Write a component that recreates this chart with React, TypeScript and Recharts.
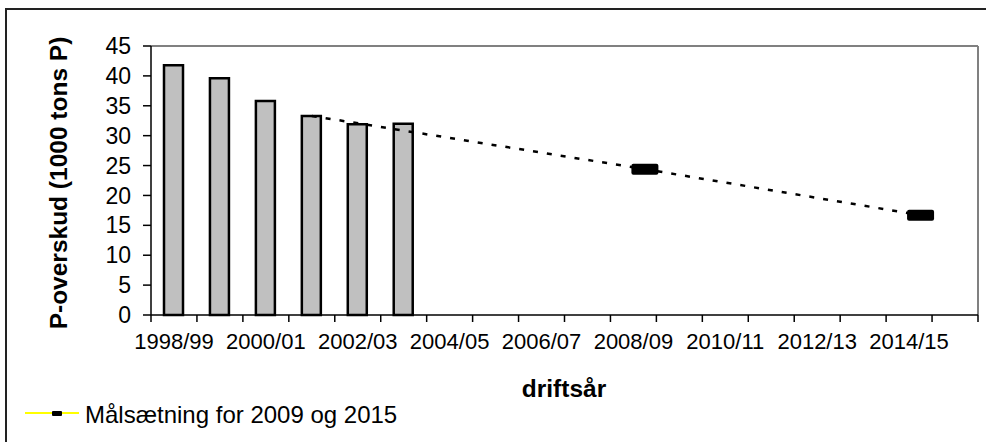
import React from 'react';
import { ComposedChart, Bar, Line, XAxis, YAxis, ReferenceLine } from 'recharts';

const seasons = [
  '1998/99', '1999/00', '2000/01', '2001/02', '2002/03', '2003/04',
  '2004/05', '2005/06', '2006/07', '2007/08', '2008/09', '2009/10',
  '2010/11', '2011/12', '2012/13', '2013/14', '2014/15', '2015/16',
];
const pSurplus: (number | null)[] = [
  41.8, 39.6, 35.8, 33.3, 31.9, 32.0,
  null, null, null, null, null, null, null, null, null, null, null, null,
];
const trendYears = [2001.5, 2008.75, 2014.75];
const trendValues = [33.3, 24.4, 16.7];
const goalYears = [2008.75, 2014.75];
const goalValues = [24.4, 16.7];
const yTicks = [0, 5, 10, 15, 20, 25, 30, 35, 40, 45];
const boundaryYears = [
  1998, 1999, 2000, 2001, 2002, 2003, 2004, 2005, 2006, 2007,
  2008, 2009, 2010, 2011, 2012, 2013, 2014, 2015, 2016,
];
const firstYear = boundaryYears[0];
const lastYear = boundaryYears[boundaryYears.length - 1];

const barData = seasons.map((name, i) => ({ name, p: pSurplus[i] }));
const trendData = trendYears.map((year, i) => ({ year, trend: trendValues[i] }));
const goalData = goalYears.map((year, i) => ({ year, goal: goalValues[i] }));
// tick marks at season boundaries, labels at season centres
const xTicks = [
  ...boundaryYears,
  ...boundaryYears.slice(0, -1).map((y) => y + 0.5),
].sort((a, b) => a - b);

const FONT = '"Liberation Sans", Arial, sans-serif';

const XTick = (props: any) => {
  const { x, y, payload, index } = props;
  const v = payload.value as number;
  if (Number.isInteger(v)) {
    return <line key={`t${index}`} x1={x} y1={y} x2={x} y2={y + 7} stroke="#000" strokeWidth={1.5} />;
  }
  const idx = Math.floor(v) - firstYear;
  if (idx % 2 !== 0) return <g key={`t${index}`} />;
  return (
    <text key={`t${index}`} x={x} y={y + 18} dy="0.71em" textAnchor="middle" fontSize={22} fontFamily={FONT} fill="#000">
      {seasons[idx]}
    </text>
  );
};

const GoalMarker = (props: any) => {
  const { cx, cy, index } = props;
  if (cx == null || cy == null) return <g key={`m${index}`} />;
  return (
    <rect key={`m${index}`} x={cx - 13.5} y={cy - 5.5} width={27} height={11} rx={2} ry={2} fill="#000" />
  );
};

export default function App() {
  return (
    <div style={{ position: 'absolute', left: 0, top: 0, width: 986, height: 442, background: '#fff', fontFamily: FONT }}>
      {/* outer chart border */}
      <div style={{ position: 'absolute', left: 6, top: 8, width: 980, height: 2, background: '#222' }} />
      <div style={{ position: 'absolute', left: 5, top: 8, width: 2, height: 434, background: '#222' }} />
      <div style={{ position: 'absolute', left: 0, top: 0 }}>
        <ComposedChart
          width={986}
          height={442}
          data={barData}
          margin={{ top: 46, right: 8, left: 0, bottom: 0 }}
        >
          <XAxis xAxisId="cat" dataKey="name" type="category" hide height={0} />
          <XAxis
            xAxisId="num"
            type="number"
            dataKey="year"
            domain={[firstYear, lastYear]}
            allowDataOverflow
            ticks={xTicks}
            interval={0}
            tickSize={0}
            tickMargin={0}
            tickLine={false}
            tick={<XTick />}
            height={127}
            axisLine={{ stroke: '#000', strokeWidth: 1.5 }}
          />
          <YAxis
            domain={[0, 45]}
            ticks={yTicks}
            interval={0}
            width={151}
            tickSize={8}
            tickMargin={12}
            axisLine={{ stroke: '#000', strokeWidth: 1.5 }}
            tickLine={{ stroke: '#000', strokeWidth: 1.5 }}
            tick={{ fill: '#000', fontSize: 23, fontFamily: FONT }}
          />
          <ReferenceLine y={45} xAxisId="num" stroke="#808080" strokeWidth={2} />
          <ReferenceLine x={lastYear} xAxisId="num" stroke="#808080" strokeWidth={2} />
          <Bar
            xAxisId="cat"
            dataKey="p"
            barSize={19}
            fill="#c0c0c0"
            stroke="#000"
            strokeWidth={2.5}
            isAnimationActive={false}
          />
          <Line
            xAxisId="num"
            data={trendData}
            dataKey="trend"
            stroke="#000"
            strokeWidth={2.5}
            strokeDasharray="5 9"
            dot={false}
            activeDot={false}
            isAnimationActive={false}
          />
          <Line
            xAxisId="num"
            data={goalData}
            dataKey="goal"
            stroke="none"
            dot={<GoalMarker />}
            activeDot={false}
            isAnimationActive={false}
          />
        </ComposedChart>
      </div>
      {/* axis titles */}
      <div
        style={{
          position: 'absolute', left: 59, top: 183, transform: 'translate(-50%, -50%) rotate(-90deg)',
          whiteSpace: 'nowrap', fontWeight: 'bold', fontSize: 24.5, lineHeight: '24px', color: '#000',
        }}
      >
        P-overskud (1000 tons P)
      </div>
      <div
        style={{
          position: 'absolute', left: 564, top: 389, transform: 'translate(-50%, -50%)',
          whiteSpace: 'nowrap', fontWeight: 'bold', fontSize: 24.5, lineHeight: '24px', color: '#000',
        }}
      >
        driftsår
      </div>
      {/* legend */}
      <div style={{ position: 'absolute', left: 25, top: 412, width: 54, height: 2, background: '#ffff00' }} />
      <div style={{ position: 'absolute', left: 52, top: 411, width: 10, height: 5, background: '#000', borderRadius: 1 }} />
      <div
        style={{
          position: 'absolute', left: 85, top: 403, whiteSpace: 'nowrap', fontSize: 24, lineHeight: '24px', color: '#000',
        }}
      >
        Målsætning for 2009 og 2015
      </div>
    </div>
  );
}
